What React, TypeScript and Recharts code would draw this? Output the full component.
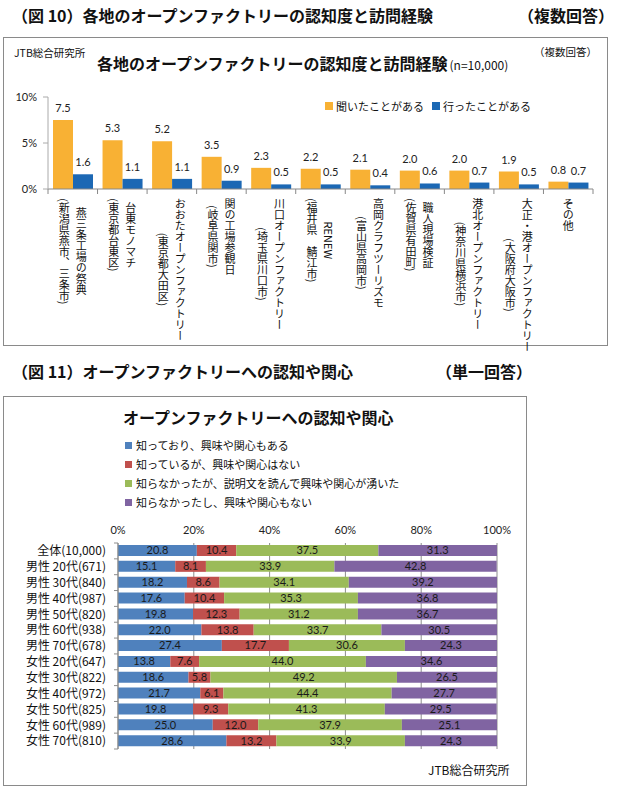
import React from 'react';
import { BarChart, Bar, XAxis, YAxis, CartesianGrid, LabelList } from 'recharts';

// 図10: 各地のオープンファクトリーの認知度と訪問経験
const spots = [
  '燕三条工場の祭典',
  '台東モノマチ',
  'おおたオープンファクトリー',
  '関の工場参観日',
  '川口オープンファクトリー',
  'RENEW',
  '高岡クラフツーリズモ',
  '職人現場検証',
  '港北オープンファクトリー',
  '大正・港オープンファクトリー',
  'その他',
];
const places = [
  '(新潟県燕市、三条市)',
  '(東京都台東区)',
  '(東京都大田区)',
  '(岐阜県関市)',
  '(埼玉県川口市)',
  '(福井県　鯖江市)',
  '(富山県高岡市)',
  '(佐賀県有田町)',
  '(神奈川県横浜市)',
  '(大阪府大阪市)',
  '',
];
const heard = [7.5, 5.3, 5.2, 3.5, 2.3, 2.2, 2.1, 2.0, 2.0, 1.9, 0.8];
const visited = [1.6, 1.1, 1.1, 0.9, 0.5, 0.5, 0.4, 0.6, 0.7, 0.5, 0.7];
const spotTicks = [0, 5, 10];

// 図11: オープンファクトリーへの認知や関心
const groups = [
  '全体(10,000)',
  '男性 20代(671)',
  '男性 30代(840)',
  '男性 40代(987)',
  '男性 50代(820)',
  '男性 60代(938)',
  '男性 70代(678)',
  '女性 20代(647)',
  '女性 30代(822)',
  '女性 40代(972)',
  '女性 50代(825)',
  '女性 60代(989)',
  '女性 70代(810)',
];
const knowInterested = [20.8, 15.1, 18.2, 17.6, 19.8, 22.0, 27.4, 13.8, 18.6, 21.7, 19.8, 25.0, 28.6];
const knowNotInterested = [10.4, 8.1, 8.6, 10.4, 12.3, 13.8, 17.7, 7.6, 5.8, 6.1, 9.3, 12.0, 13.2];
const newlyInterested = [37.5, 33.9, 34.1, 35.3, 31.2, 33.7, 30.6, 44.0, 49.2, 44.4, 41.3, 37.9, 33.9];
const notInterested = [31.3, 42.8, 39.2, 36.8, 36.7, 30.5, 24.3, 34.6, 26.5, 27.7, 29.5, 25.1, 24.3];
const shareTicks = [0, 20, 40, 60, 80, 100];

const interestSeries = [
  { key: 'a', name: '知っており、興味や関心もある', color: '#4F81BD' },
  { key: 'b', name: '知っているが、興味や関心はない', color: '#C0504D' },
  { key: 'c', name: '知らなかったが、説明文を読んで興味や関心が湧いた', color: '#9BBB59' },
  { key: 'd', name: '知らなかったし、興味や関心もない', color: '#8064A2' },
];

const spotRows = spots.map((name, i) => ({ name, heard: heard[i], visited: visited[i] }));
const groupRows = groups.map((group, i) => ({
  group,
  a: knowInterested[i],
  b: knowNotInterested[i],
  c: newlyInterested[i],
  d: notInterested[i],
}));

const JP = "'Noto Sans CJK JP', sans-serif";
const NUM = "Lato, 'Noto Sans CJK JP', sans-serif";
const ORANGE = '#F8B134';
const BLUE = '#1C68B4';

// top chart geometry
const TOP_W = 626;
const TOP_H = 356;
const TOP_M = { top: 97, right: 33, bottom: 17, left: 8 };
const TOP_YAXIS_W = 40;
const TOP_PLOT_H = 92;
const TOP_XAXIS_H = TOP_H - TOP_M.top - TOP_M.bottom - TOP_PLOT_H;
const TOP_PLOT_W = TOP_W - TOP_M.left - TOP_M.right - TOP_YAXIS_W;
const TOP_AXIS_Y = TOP_M.top + TOP_PLOT_H;
const TOP_STEP = TOP_PLOT_W / spots.length;

// bottom chart geometry
const BOT_W = 530;
const BOT_H = 250;
const BOT_M = { top: 13, right: 33, bottom: 11, left: 0 };
const BOT_YAXIS_W = 118;
const BOT_XAXIS_H = 20;
const BOT_PLOT_H = BOT_H - BOT_M.top - BOT_M.bottom - BOT_XAXIS_H;
const BOT_STEP = BOT_PLOT_H / groups.length;

const fmt1 = (v: any) => Number(v).toFixed(1);

// rough length of a vertical column of text
const colLen = (s: string, fs: number) =>
  [...s].reduce((acc, ch) => {
    if (ch === '(' || ch === ')') return acc + 0.35 * fs;
    if (ch.charCodeAt(0) < 128) return acc + 0.66 * fs;
    return acc + fs;
  }, 0);

function SpotTick(props: any) {
  const { x, payload } = props;
  const i = spots.indexOf(payload.value);
  const fs = 11;
  const cols: [string, number][] = places[i]
    ? [
        [spots[i], x + 8.5],
        [places[i], x - 8.5],
      ]
    : [[spots[i], x]];
  const maxLen = Math.max(...cols.map((c) => colLen(c[0], fs)));
  const cy = TOP_AXIS_Y + 9 + maxLen / 2;
  const half = TOP_STEP / 2;
  return (
    <g>
      <line x1={x - half} x2={x - half} y1={TOP_AXIS_Y} y2={TOP_AXIS_Y + 5} stroke="#888" />
      {i === spots.length - 1 && (
        <line x1={x + half} x2={x + half} y1={TOP_AXIS_Y} y2={TOP_AXIS_Y + 5} stroke="#888" />
      )}
      {cols.map(([t, cx]) => (
        <text
          key={t}
          x={cx}
          y={cy}
          textAnchor="middle"
          fontSize={fs}
          fill="#111"
          fontFamily={JP}
          style={{ writingMode: 'vertical-rl' }}
        >
          {t}
        </text>
      ))}
    </g>
  );
}

function GroupTick(props: any) {
  const { y, payload } = props;
  const i = groups.indexOf(payload.value);
  const ax = BOT_YAXIS_W;
  const half = BOT_STEP / 2;
  return (
    <g>
      <line x1={ax - 4} x2={ax} y1={y - half} y2={y - half} stroke="#8c8c8c" />
      {i === groups.length - 1 && <line x1={ax - 4} x2={ax} y1={y + half} y2={y + half} stroke="#8c8c8c" />}
      <text x={ax - 12} y={y} dy="0.36em" textAnchor="end" fontSize={12} fill="#111" fontFamily={JP}>
        {payload.value}
      </text>
    </g>
  );
}

function Txt({ x, y, size, bold, children, family }: any) {
  return (
    <div
      style={{
        position: 'absolute',
        left: x,
        top: y - size / 2,
        fontSize: size,
        lineHeight: `${size}px`,
        fontWeight: bold ? 700 : 400,
        fontFamily: family || JP,
        whiteSpace: 'nowrap',
        color: '#111',
      }}
    >
      {children}
    </div>
  );
}

export default function App() {
  return (
    <div
      style={{
        position: 'absolute',
        left: 0,
        top: 0,
        width: 626,
        height: 792,
        background: '#fff',
        overflow: 'hidden',
        fontFamily: JP,
      }}
    >
      <Txt x={12} y={15} size={16} bold>
        （図 10）各地のオープンファクトリーの認知度と訪問経験
      </Txt>
      <Txt x={518} y={15} size={16} bold>
        （複数回答）
      </Txt>

      <div
        style={{
          position: 'absolute',
          left: 3,
          top: 37,
          width: 605,
          height: 309,
          border: '1px solid #8a8a8a',
          boxSizing: 'border-box',
        }}
      />
      <Txt x={14} y={53} size={10.5}>
        JTB総合研究所
      </Txt>
      <div style={{ position: 'absolute', left: 97, top: 51, whiteSpace: 'nowrap', color: '#111' }}>
        <span style={{ fontSize: 16, fontWeight: 700, lineHeight: '20px' }}>
          各地のオープンファクトリーの認知度と訪問経験
        </span>
        <span style={{ fontSize: 12, lineHeight: '20px', marginLeft: 2 }}>(n=10,000)</span>
      </div>
      <Txt x={534} y={52} size={10.5}>
        （複数回答）
      </Txt>

      {/* legend of the top chart */}
      <div style={{ position: 'absolute', left: 325, top: 102, width: 8, height: 8, background: ORANGE }} />
      <Txt x={336} y={106} size={11}>
        聞いたことがある
      </Txt>
      <div style={{ position: 'absolute', left: 432, top: 102, width: 8, height: 8, background: BLUE }} />
      <Txt x={443} y={106} size={11}>
        行ったことがある
      </Txt>

      <div style={{ position: 'absolute', left: 0, top: 0 }}>
        <BarChart width={TOP_W} height={TOP_H} data={spotRows} margin={TOP_M} barGap={0} barSize={20}>
          <XAxis
            dataKey="name"
            interval={0}
            height={TOP_XAXIS_H}
            tickLine={false}
            axisLine={{ stroke: '#888' }}
            tick={<SpotTick />}
          />
          <YAxis
            type="number"
            domain={[0, 10]}
            ticks={spotTicks}
            width={TOP_YAXIS_W}
            tickFormatter={(v) => `${v}%`}
            tickSize={5}
            tickMargin={6}
            axisLine={{ stroke: '#aaa' }}
            tickLine={{ stroke: '#aaa' }}
            tick={{ fontSize: 11, fill: '#222', fontFamily: NUM }}
          />
          <Bar dataKey="heard" fill={ORANGE} isAnimationActive={false}>
            <LabelList
              dataKey="heard"
              position="top"
              offset={8}
              formatter={fmt1}
              style={{ fontSize: 11, fill: '#222', fontFamily: NUM }}
            />
          </Bar>
          <Bar dataKey="visited" fill={BLUE} isAnimationActive={false}>
            <LabelList
              dataKey="visited"
              position="top"
              offset={8}
              formatter={fmt1}
              style={{ fontSize: 11, fill: '#222', fontFamily: NUM }}
            />
          </Bar>
        </BarChart>
      </div>

      <Txt x={12} y={371} size={16} bold>
        （図 11）オープンファクトリーへの認知や関心
      </Txt>
      <Txt x={436} y={371} size={16} bold>
        （単一回答）
      </Txt>

      <div
        style={{
          position: 'absolute',
          left: 3,
          top: 396,
          width: 524,
          height: 390,
          border: '1px solid #8a8a8a',
          boxSizing: 'border-box',
        }}
      />
      <Txt x={123} y={417} size={16} bold>
        オープンファクトリーへの認知や関心
      </Txt>
      {interestSeries.map((s, i) => (
        <React.Fragment key={s.key}>
          <div
            style={{
              position: 'absolute',
              left: 125,
              top: 442 + i * 19,
              width: 7,
              height: 7,
              background: s.color,
            }}
          />
          <Txt x={136} y={445.5 + i * 19} size={11}>
            {s.name}
          </Txt>
        </React.Fragment>
      ))}

      <div style={{ position: 'absolute', left: 0, top: 510 }}>
        <BarChart
          layout="vertical"
          width={BOT_W}
          height={BOT_H}
          data={groupRows}
          margin={BOT_M}
          barSize={11}
        >
          <CartesianGrid horizontal={false} stroke="#8c8c8c" />
          <XAxis
            type="number"
            orientation="top"
            domain={[0, 100]}
            ticks={shareTicks}
            allowDataOverflow
            height={BOT_XAXIS_H}
            tickFormatter={(v) => `${v}%`}
            axisLine={false}
            tickLine={false}
            tickMargin={3}
            tick={{ fontSize: 11, fill: '#222', fontFamily: NUM }}
          />
          <YAxis
            type="category"
            dataKey="group"
            width={BOT_YAXIS_W}
            interval={0}
            axisLine={{ stroke: '#8c8c8c' }}
            tickLine={false}
            tick={<GroupTick />}
          />
          {interestSeries.map((s) => (
            <Bar key={s.key} dataKey={s.key} stackId="share" fill={s.color} isAnimationActive={false}>
              <LabelList
                dataKey={s.key}
                position="center"
                formatter={fmt1}
                style={{ fontSize: 11, fill: '#1a1a1a', fontFamily: NUM }}
              />
            </Bar>
          ))}
        </BarChart>
      </div>

      <Txt x={428} y={770} size={12}>
        JTB総合研究所
      </Txt>
    </div>
  );
}
